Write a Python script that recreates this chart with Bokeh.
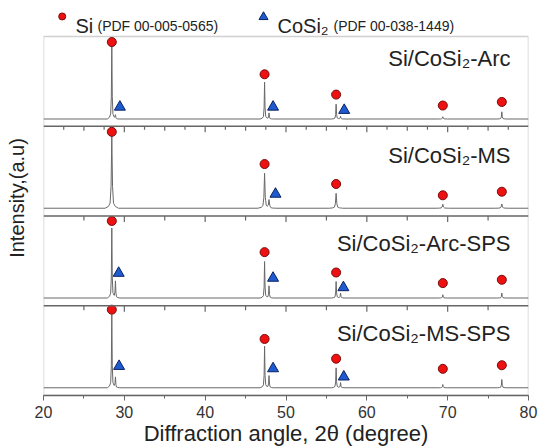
import numpy as np
from bokeh.plotting import figure
from bokeh.models import Span, SingleIntervalTicker, FixedTicker, BoxAnnotation
from bokeh.core.properties import value
from bokeh.embed import file_html
from bokeh.resources import INLINE

# ---------------- data ----------------
SAMPLES = ["Si/CoSi\u2082-Arc", "Si/CoSi\u2082-MS", "Si/CoSi\u2082-Arc-SPS", "Si/CoSi\u2082-MS-SPS"]
SI_PEAKS = [28.45, 47.35, 56.2, 69.4, 76.7]          # 2theta, Si reflections
COSI2_PEAKS = [28.9, 47.9, 56.75]                    # 2theta, CoSi2 reflections
BASELINE = [0.080, 0.086, 0.086, 0.086]              # background level (panel fraction)
SI_HEIGHTS = [[0.82, 0.41, 0.165, 0.025, 0.08],
              [0.814, 0.388, 0.166, 0.044, 0.047],
              [0.777, 0.406, 0.184, 0.036, 0.055],
              [0.814, 0.462, 0.222, 0.036, 0.092]]
COSI2_HEIGHTS = [[0.04, 0.068, 0.03],
                 [0.0, 0.09, 0.0],
                 [0.184, 0.136, 0.055],
                 [0.114, 0.136, 0.058]]
SI_MARK_Y = [[0.937, 0.578, 0.352, 0.23, 0.27],
             [0.937, 0.578, 0.356, 0.23, 0.27],
             [0.944, 0.597, 0.37, 0.252, 0.289],
             [0.956, 0.63, 0.41, 0.297, 0.337]]
TRI_MARK_X = [[29.45, 48.4, 57.2], [48.7], [29.3, 48.4, 57.1], [29.35, 48.4, 57.15]]
TRI_MARK_Y = [[0.214, 0.214, 0.178], [0.244], [0.363, 0.308, 0.203], [0.326, 0.3, 0.208]]
LEGEND_NAMES = ["Si", "CoSi\u2082"]
LEGEND_PDF = ["(PDF 00-005-0565)", "(PDF 00-038-1449)"]
X_LABEL = "Diffraction angle, 2\u03b8 (degree)"
Y_LABEL = "Intensity,(a.u)"

# peak shape (style only)
PROFILE_DX = np.array([-0.55, -0.28, -0.14, -0.06, 0.0, 0.06, 0.14, 0.28, 0.55])
PROFILE_F = np.array([0.0, 0.025, 0.07, 0.3, 1.0, 0.3, 0.07, 0.025, 0.0])
WIDTH = [1.0, 1.5, 1.0, 1.0]

FONT = "Liberation Sans"
RED, RED_EDGE = "#ee1111", "#7a0a0a"
BLUE, BLUE_EDGE = "#1f5bd0", "#0c2260"
FRAME = "#666666"
TEXT = "#222222"

# ---------------- geometry (layout only) ----------------
W, H = 540, 448
B_LEFT, B_RIGHT, B_BOTTOM = 43, 12, 52
PX = 90.0                                  # pixels per panel
N = len(SAMPLES)
Y_TOP = (H - B_BOTTOM) / PX                # room above the panels for the key
X0, X1 = 20, 80
XPX = (W - B_LEFT - B_RIGHT) / (X1 - X0)


def kx(dx):      # pixels right of the frame's left edge -> data x
    return X0 + dx / XPX


def ky(dy):      # pixels above the top panel -> data y
    return N + dy / PX


def pattern(i):
    centers = SI_PEAKS + COSI2_PEAKS
    heights = SI_HEIGHTS[i] + COSI2_HEIGHTS[i]
    dx = PROFILE_DX * WIDTH[i]
    xs = [float(X0), float(X1)] + [c + d for c in centers for d in dx]
    xs = np.unique(np.array(xs))
    ys = np.full_like(xs, BASELINE[i])
    for c, h in zip(centers, heights):
        ys += h * np.interp(xs - c, dx, PROFILE_F, left=0.0, right=0.0)
    return xs, ys


p = figure(width=W, height=H, x_range=(X0, X1), y_range=(0, Y_TOP),
           toolbar_location=None, output_backend="svg",
           min_border_left=B_LEFT, min_border_right=B_RIGHT,
           min_border_top=0, min_border_bottom=B_BOTTOM)
p.grid.visible = False
p.outline_line_color = None
p.add_layout(BoxAnnotation(left=X0, right=X1, bottom=0, top=N, fill_alpha=0,
                           line_color=FRAME, line_width=1.5))

xa = p.xaxis[0]
xa.ticker = SingleIntervalTicker(interval=10, num_minor_ticks=2)
xa.major_tick_in = 0
xa.major_tick_out = 5
xa.minor_tick_in = 0
xa.minor_tick_out = 3
xa.axis_line_color = FRAME
xa.axis_line_width = 1.5
xa.major_tick_line_color = FRAME
xa.minor_tick_line_color = FRAME
xa.major_label_text_font = FONT
xa.major_label_text_font_size = "16px"
xa.major_label_text_color = "#333333"
xa.major_label_standoff = 5
xa.axis_label = X_LABEL
xa.axis_label_text_font = FONT
xa.axis_label_text_font_size = "22px"
xa.axis_label_text_font_style = "normal"
xa.axis_label_text_color = TEXT
xa.axis_label_standoff = 0

ya = p.yaxis[0]
ya.ticker = FixedTicker(ticks=[])
ya.major_label_text_font_size = "0px"
ya.major_tick_out = 0
ya.minor_tick_out = 0
ya.axis_line_color = None
ya.axis_label = Y_LABEL
ya.axis_label_text_font = FONT
ya.axis_label_text_font_size = "20px"
ya.axis_label_text_font_style = "normal"
ya.axis_label_text_color = TEXT
ya.axis_label_standoff = 16

for b in range(1, N):
    p.add_layout(Span(location=b, dimension="width", line_color=FRAME, line_width=1.5))

# inner tick marks hanging from each panel boundary
for b in range(1, N):
    step = 2.5 if b == N - 1 else 5.0
    tx = np.arange(X0 + step, X1, step)
    lens = np.where(np.isclose(tx % 10, 0), 6.0, np.where(np.isclose(tx % 5, 0), 4.5, 3.5)) / PX
    p.segment(x0=tx, y0=np.full_like(tx, b), x1=tx, y1=b - lens,
              line_color=FRAME, line_width=1.2)

for i in range(N):
    off = N - 1 - i
    xs, ys = pattern(i)
    p.line(xs, ys + off, line_color="#686868", line_width=1)
    p.scatter(SI_PEAKS, np.array(SI_MARK_Y[i]) + off, marker="circle", size=9,
              fill_color=RED, line_color=RED_EDGE, line_width=1)
    p.scatter(TRI_MARK_X[i], np.array(TRI_MARK_Y[i]) + off, marker="triangle", size=11,
              fill_color=BLUE, line_color=BLUE_EDGE, line_width=1)

LABEL_Y = [0.752, 0.678, 0.696, 0.696]
p.text(x=[kx(467)] * N, y=[N - 1 - i + LABEL_Y[i] for i in range(N)], text=SAMPLES,
       text_align="right", text_baseline="middle", text_font=value(FONT),
       text_font_size="22px", text_color=TEXT)

# key above the panels
p.scatter([kx(18.7)], [ky(20)], marker="circle", size=7, fill_color=RED, line_color=RED_EDGE)
p.scatter([kx(220)], [ky(19.5)], marker="triangle", size=9, fill_color=BLUE, line_color=BLUE_EDGE)
p.text(x=[kx(32), kx(234)], y=[ky(10.5)] * 2, text=LEGEND_NAMES, text_font=value(FONT),
       text_font_size="20px", text_baseline="alphabetic", text_color=TEXT)
p.text(x=[kx(54), kx(290)], y=[ky(10.5)] * 2, text=LEGEND_PDF, text_font=value(FONT),
       text_font_size="14px", text_baseline="alphabetic", text_color=TEXT)

open("out.html", "w").write(file_html(p, INLINE))
